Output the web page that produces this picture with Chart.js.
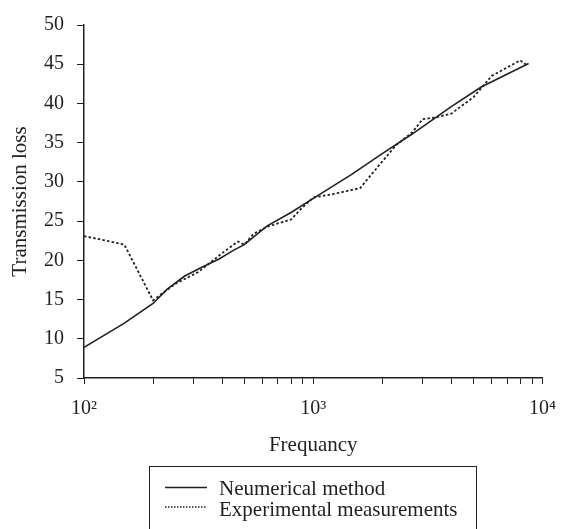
<head>
    <script src="https://cdn.jsdelivr.net/npm/chart.js"></script>
    <style>
        body { margin: 0; background: #fff; }
        #wrap { width: 569px; height: 529px; }
    </style>
</head>
<body>
    <div id="wrap"><canvas id="myChart" width="569" height="529"></canvas></div>
    <script>
        // numerical method curve
        const freqNum = [100, 150, 200, 230, 275, 320, 390, 450, 500, 630, 800, 1000, 1460, 2000, 2700, 4000, 5400, 8700];
        const lossNum = [8.9, 12.0, 14.5, 16.3, 18.0, 19.0, 20.2, 21.3, 22.0, 24.4, 26.1, 27.9, 30.9, 33.6, 36.1, 39.6, 42.1, 45.1];

        // experimental measurements
        const freqExp = [100, 150, 200, 250, 315, 400, 470, 500, 550, 630, 800, 880, 1000, 1200, 1600, 2000, 2300, 2700, 3000, 3400, 4000, 5000, 6000, 8000, 8600];
        const lossExp = [23.1, 22.0, 14.9, 17.0, 18.5, 20.9, 22.4, 22.0, 23.4, 24.3, 25.2, 26.5, 28.0, 28.4, 29.2, 32.6, 34.7, 36.3, 38.0, 38.2, 38.7, 40.8, 43.5, 45.5, 44.8];

        const xTicks = [100, 200, 300, 400, 500, 600, 700, 800, 900, 1000, 2000, 3000, 4000, 5000, 6000, 7000, 8000, 9000, 10000];
        const xMajor = [100, 1000, 10000];
        const xMajorLabels = ['10\u00b2', '10\u00b3', '10\u2074'];

        const ink = '#231f20';
        const serif = "'Liberation Serif', 'Times New Roman', serif";

        const legendBox = {
            id: 'legendBox',
            afterDraw(chart) {
                const ctx = chart.ctx;
                ctx.save();
                ctx.strokeStyle = ink;
                ctx.lineWidth = 1;
                ctx.strokeRect(149.5, 466.5, 327, 80);
                ctx.font = '21px ' + serif;
                ctx.fillStyle = ink;
                ctx.textBaseline = 'alphabetic';
                chart.data.datasets.forEach((ds, i) => {
                    const ly = 487.5 + i * 19.5;
                    ctx.beginPath();
                    ctx.lineWidth = 1.5;
                    ctx.setLineDash(i === 0 ? [] : [1.5, 1.5]);
                    ctx.moveTo(165, ly);
                    ctx.lineTo(207, ly);
                    ctx.stroke();
                    ctx.setLineDash([]);
                    ctx.fillText(ds.label, 219, 495 + i * 20.5);
                });
                ctx.restore();
            }
        };

        const ctx = document.getElementById('myChart');
        const myChart = new Chart(ctx, {
            type: 'line',
            data: {
                datasets: [{
                    label: 'Neumerical method',
                    data: freqNum.map((f, i) => ({x: f, y: lossNum[i]})),
                    borderColor: ink,
                    borderWidth: 1.6,
                    pointRadius: 0,
                    fill: false
                }, {
                    label: 'Experimental measurements',
                    data: freqExp.map((f, i) => ({x: f, y: lossExp[i]})),
                    borderColor: ink,
                    borderWidth: 1.8,
                    borderDash: [2.5, 2.2],
                    pointRadius: 0,
                    fill: false
                }]
            },
            options: {
                responsive: false,
                animation: false,
                layout: { padding: { left: 0, top: 17, right: 26, bottom: 0 } },
                plugins: { legend: { display: false }, tooltip: { enabled: false } },
                scales: {
                    x: {
                        type: 'logarithmic',
                        position: 'bottom',
                        min: 100,
                        max: 10000,
                        afterBuildTicks: (scale) => {
                            scale.ticks = xTicks.map(v => ({value: v, major: xMajor.includes(v)}));
                        },
                        afterFit: (scale) => { scale.height = 151; },
                        border: { display: true, color: ink, width: 1.5 },
                        grid: { drawOnChartArea: false, tickLength: 6, color: ink, lineWidth: 1 },
                        ticks: {
                            autoSkip: false,
                            maxRotation: 0,
                            padding: 13,
                            color: ink,
                            font: { family: serif, size: 20 },
                            callback: (v) => {
                                const k = xMajor.indexOf(v);
                                return k >= 0 ? xMajorLabels[k] : '';
                            }
                        },
                        title: {
                            display: true,
                            text: 'Frequancy',
                            color: ink,
                            font: { family: serif, size: 21 },
                            padding: { top: 0, bottom: 71 }
                        }
                    },
                    y: {
                        type: 'linear',
                        position: 'left',
                        min: 5,
                        max: 50,
                        afterFit: (scale) => { scale.width = 84; },
                        border: { display: true, color: ink, width: 1.5 },
                        grid: { drawOnChartArea: false, tickLength: 7, color: ink, lineWidth: 1 },
                        ticks: {
                            stepSize: 5,
                            padding: 13,
                            color: ink,
                            font: { family: serif, size: 20 }
                        },
                        title: {
                            display: true,
                            text: 'Transmission loss',
                            color: ink,
                            font: { family: serif, size: 21 },
                            padding: { top: 8, bottom: 0 }
                        }
                    }
                }
            },
            plugins: [legendBox]
        });
    </script>
</body>
